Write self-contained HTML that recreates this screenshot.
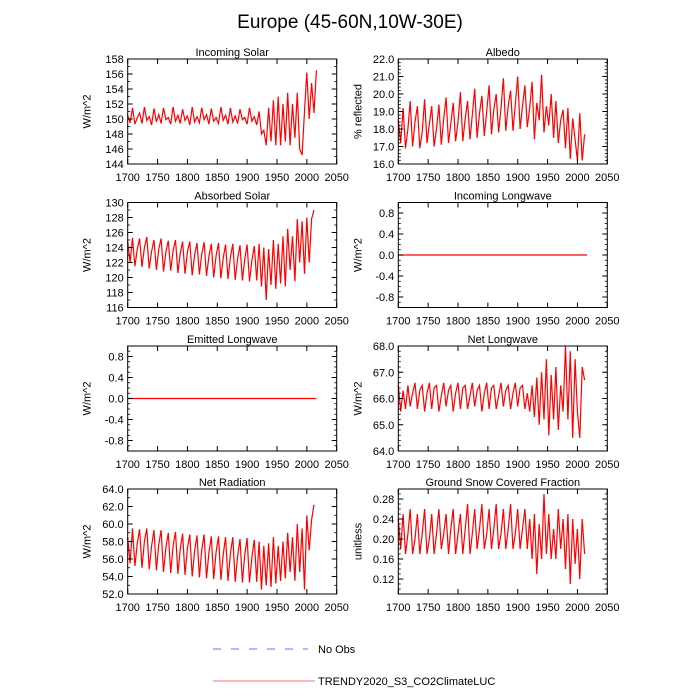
<!DOCTYPE html>
<html><head><meta charset="utf-8"><style>
body{margin:0;background:#fff;}
svg{display:block;font-family:"Liberation Sans",sans-serif;}
</style></head><body>
<svg id="c" width="700" height="700" viewBox="0 0 700 700">
<text x="350" y="28" text-anchor="middle" font-size="19">Europe (45-60N,10W-30E)</text>
<g>
<line x1="213" y1="649" x2="308" y2="649" stroke="#6f6fff" stroke-dasharray="8,10"/>
<text x="318" y="653" font-size="11">No Obs</text>
<line x1="213" y1="681" x2="315" y2="681" stroke="#ff7070"/>
<text x="318" y="685" font-size="11">TRENDY2020_S3_CO2ClimateLUC</text>
</g>
</svg>
<script>
const years = [];
for (let y = 1700; y <= 2016; y += 4) years.push(y);
const xTicks = [1700,1750,1800,1850,1900,1950,2000,2050];
const incomingSolar = [150.5,149.5,151.5,149.3,150.2,150.8,149.4,151.6,149.8,150.3,149.2,151.4,149.6,150.6,149.4,151.5,149.9,150.2,149.3,151.6,149.7,150.5,149.4,151.3,149.8,150.4,149.2,151.6,149.6,150.3,149.5,151.5,149.9,150.6,149.3,151.4,149.7,150.2,149.4,151.6,149.8,150.5,149.3,151.5,149.6,150.4,149.4,151.3,149.9,150.2,149.3,151.5,149.7,150.3,149.2,
151,148,148.5,146.5,151.5,147,152.5,146.5,153,146.5,152,147,153.5,146.5,152,147.5,153.5,146,145.2,151,156.2,150,154.8,150.8,156.5];
const albedo = [18.5,17.2,19.2,16.9,18.0,19.6,17.0,18.4,19.3,16.9,17.8,19.7,17.2,18.3,19.3,17.0,18.0,19.4,17.1,18.6,19.8,17.2,18.3,19.5,17.3,18.4,20.1,17.3,18.6,19.6,17.4,18.8,20.3,17.5,18.9,19.9,17.6,19.0,20.5,17.7,19.1,20.0,17.8,19.2,20.9,17.9,19.3,20.2,17.9,19.4,21.0,18.0,19.3,20.5,18.1,
19.2,20.7,17.4,19.5,18.5,21.1,17.8,19.3,18.2,20.0,17.5,19.6,17.2,18.5,19.1,16.9,19.2,16.3,18.6,17.4,16.2,18.9,16.2,17.7];
const absorbedSolar = [124.8,122.0,125.3,121.5,123.8,125.2,121.4,124.0,125.4,121.2,123.5,125.0,121.0,123.8,125.2,120.8,123.4,124.9,120.9,123.6,125.0,120.6,123.2,124.8,120.5,123.4,124.8,120.3,123.0,124.6,120.4,123.1,124.7,120.2,122.8,124.5,120.0,122.9,124.6,119.9,122.6,124.4,119.8,122.7,124.5,119.7,122.5,124.3,119.6,122.4,124.4,119.5,122.3,124.2,119.6,
124.5,118.8,124.0,117.0,123.8,119.0,125.0,118.5,124.5,119.2,125.5,118.8,126.5,121.0,125.5,119.5,127.8,122.0,127.5,120.5,128.0,122.0,127.8,129.0];
const incomingLW = years.map(() => 0);
const emittedLW = years.map(() => 0);
const netLW = [66.5,65.5,66.3,65.6,66.5,65.7,66.2,66.6,65.6,66.3,66.5,65.5,66.2,66.6,65.6,66.4,66.5,65.5,66.1,66.6,65.7,66.3,66.5,65.5,66.2,66.6,65.6,66.4,66.5,65.6,66.1,66.6,65.7,66.3,66.5,65.5,66.2,66.6,65.6,66.4,66.5,65.6,66.1,66.6,65.7,66.3,66.5,65.6,66.2,66.6,65.7,66.4,66.5,65.6,66.2,
65.5,66.5,65.3,66.8,65.0,67.0,65.2,67.5,64.6,66.9,65.2,67.2,64.8,66.5,65.5,68.0,65.2,67.8,64.5,67.5,65.5,64.5,67.2,66.7];
const netRadiation = [58.5,55.5,59.5,55.2,57.8,59.4,55.0,58.0,59.5,54.8,57.5,59.3,54.7,57.7,59.3,54.5,57.3,59.0,54.4,57.5,59.1,54.3,57.1,58.9,54.2,57.2,58.8,54.0,56.9,58.7,53.9,57.0,58.8,53.8,56.7,58.6,53.7,56.8,58.6,53.6,56.5,58.5,53.5,56.6,58.5,53.4,56.3,58.3,53.3,56.4,58.4,53.3,56.2,58.2,53.4,
58.0,52.5,57.5,53.0,57.8,52.8,58.5,53.2,57.5,53.5,58.0,53.8,59.0,54.5,58.5,53.5,60.0,54.5,59.5,52.5,61.0,57.0,60.5,62.2];
const snowFraction = [0.24,0.18,0.25,0.17,0.21,0.26,0.17,0.20,0.25,0.17,0.21,0.26,0.17,0.20,0.25,0.17,0.21,0.26,0.18,0.21,0.25,0.17,0.22,0.26,0.17,0.21,0.25,0.17,0.22,0.27,0.17,0.21,0.26,0.18,0.22,0.27,0.18,0.21,0.26,0.18,0.22,0.27,0.18,0.21,0.26,0.18,0.22,0.27,0.18,0.21,0.26,0.18,0.22,0.26,0.18,
0.24,0.16,0.25,0.13,0.23,0.16,0.29,0.17,0.25,0.16,0.22,0.16,0.26,0.18,0.24,0.14,0.25,0.11,0.24,0.15,0.22,0.12,0.24,0.17];

const panels = [
 {name:"incoming-solar",title:"Incoming Solar",ylab:"W/m^2",x:127.7,y:59,data:incomingSolar,ymin:144,ymax:158,ticks:[144,146,148,150,152,154,156,158],dec:0,minor:1},
 {name:"albedo",title:"Albedo",ylab:"% reflected",x:398.3,y:59,data:albedo,ymin:16,ymax:22,ticks:[16,17,18,19,20,21,22],dec:1,minor:0.2},
 {name:"absorbed-solar",title:"Absorbed Solar",ylab:"W/m^2",x:127.7,y:202.5,data:absorbedSolar,ymin:116,ymax:130,ticks:[116,118,120,122,124,126,128,130],dec:0,minor:1},
 {name:"incoming-longwave",title:"Incoming Longwave",ylab:"W/m^2",x:398.3,y:202.5,data:incomingLW,ymin:-1,ymax:1,ticks:[-0.8,-0.4,0,0.4,0.8],dec:1,minor:0.1},
 {name:"emitted-longwave",title:"Emitted Longwave",ylab:"W/m^2",x:127.7,y:346,data:emittedLW,ymin:-1,ymax:1,ticks:[-0.8,-0.4,0,0.4,0.8],dec:1,minor:0.1},
 {name:"net-longwave",title:"Net Longwave",ylab:"W/m^2",x:398.3,y:346,data:netLW,ymin:64,ymax:68,ticks:[64,65,66,67,68],dec:1,minor:0.2},
 {name:"net-radiation",title:"Net Radiation",ylab:"W/m^2",x:127.7,y:489,data:netRadiation,ymin:52,ymax:64,ticks:[52,54,56,58,60,62,64],dec:1,minor:1},
 {name:"snow-fraction",title:"Ground Snow Covered Fraction",ylab:"unitless",x:398.3,y:489,data:snowFraction,ymin:0.09,ymax:0.30,ticks:[0.12,0.16,0.20,0.24,0.28],dec:2,minor:0.01}
];
const W=209, H=105;
const NS="http://www.w3.org/2000/svg";
const svg=document.getElementById('c');
function mk(t,a,p){const e=document.createElementNS(NS,t);for(const k in a)e.setAttribute(k,a[k]);(p||svg).appendChild(e);return e;}
panels.forEach(p=>{
  const g=mk('g',{});
  
  
  const sx=v=>p.x+(v-1700)/(2050-1700)*W;
  const sy=v=>p.y+H-(v-p.ymin)/(p.ymax-p.ymin)*H;
  const pts=years.map((yr,i)=>sx(yr).toFixed(1)+','+sy(p.data[i]).toFixed(1)).join(' ');
  const line=mk('polyline',{points:pts,fill:'none',stroke:'#ff0000','stroke-width':1.2},g);
  
  
  const fr=mk('rect',{x:p.x,y:p.y,width:W,height:H,fill:'none',stroke:'#000','stroke-width':1},g);
  
  
  xTicks.forEach(t=>{
    const X=sx(t);
    mk('line',{x1:X,y1:p.y+H,x2:X,y2:p.y+H-5,stroke:'#000'},g);
    mk('line',{x1:X,y1:p.y,x2:X,y2:p.y+5,stroke:'#000'},g);
    const tx=mk('text',{x:X,y:p.y+H+17,'text-anchor':'middle','font-size':11},g);
    tx.textContent=t;
    
    
  });
  for(let v=Math.ceil(p.ymin/p.minor-1e-6)*p.minor; v<=p.ymax+1e-9; v+=p.minor){
    const Y=sy(v);
    mk('line',{x1:p.x,y1:Y,x2:p.x+2.5,y2:Y,stroke:'#000','stroke-width':0.8},g);
    mk('line',{x1:p.x+W,y1:Y,x2:p.x+W-2.5,y2:Y,stroke:'#000','stroke-width':0.8},g);
  }
  p.ticks.forEach(t=>{
    const Y=sy(t);
    mk('line',{x1:p.x,y1:Y,x2:p.x+5,y2:Y,stroke:'#000'},g);
    mk('line',{x1:p.x+W,y1:Y,x2:p.x+W-5,y2:Y,stroke:'#000'},g);
    const tx=mk('text',{x:p.x-4,y:Y+4,'text-anchor':'end','font-size':11},g);
    tx.textContent=t.toFixed(p.dec);
    
    
  });
  const ti=mk('text',{x:p.x+W/2,y:p.y-3,'text-anchor':'middle','font-size':11},g);
  ti.textContent=p.title;
  
  
  const yl=mk('text',{x:0,y:0,'text-anchor':'middle','font-size':11,transform:`translate(${p.x-37},${p.y+H/2}) rotate(-90)`},g);
  yl.textContent=p.ylab;
  
  
});
</script>
</body></html>
